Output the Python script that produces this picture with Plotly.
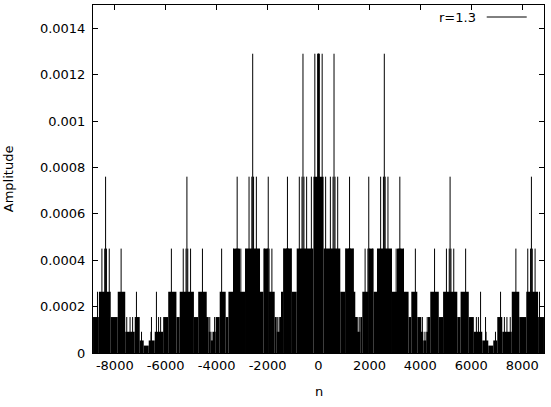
import plotly.graph_objects as go

# ---- data (approximate) ----
level_amp = [0.00129, 0.00076, 0.00045, 0.000264, 0.000155, 0.0000915, 0.000054, 0.000032]

# dense (solid-looking) base of the impulse cloud: segments [start, end) in n with level index
seg_start = [-8855, -8625, -8160, -7885, -7590, -7218, -7021, -6864, -6668, -6432, -6100, -5902,
             -5580, -5451, -4893, -4724, -4390, -4312, -4233, -4115, -4037, -3880, -3645, -3538,
             -3342, -3083, -2886, -2297, -2164, -1967, -1720, -1641, -1504, -1445, -1378, -1052,
             -856, -200,
             200, 856, 1052, 1378, 1445, 1504, 1641, 1720, 1967, 2164, 2297, 2886, 3083, 3342,
             3538, 3645, 3880, 4037, 4115, 4233, 4312, 4390, 4724, 4893, 5451, 5580, 5902, 6100,
             6432, 6668, 6864, 7021, 7218, 7590, 7885, 8160, 8625]
seg_end = [-8625, -8160, -7885, -7590, -7218, -7021, -6864, -6668, -6432, -6100, -5902, -5580,
           -5451, -4893, -4724, -4390, -4312, -4233, -4115, -4037, -3880, -3645, -3538, -3342,
           -3083, -2886, -2297, -2164, -1967, -1720, -1641, -1504, -1445, -1378, -1052, -856,
           -200, 200,
           856, 1052, 1378, 1445, 1504, 1641, 1720, 1967, 2164, 2297, 2886, 3083, 3342, 3538,
           3645, 3880, 4037, 4115, 4233, 4312, 4390, 4724, 4893, 5451, 5580, 5902, 6100, 6432,
           6668, 6864, 7021, 7218, 7590, 7885, 8160, 8625, 8855]
seg_level = [4, 3, 4, 3, 5, 4, 6, 7, 6, 5, 4, 3,
             4, 3, 4, 3, 4, 5, 6, 5, 4, 3, 4, 3,
             2, 3, 2, 3, 2, 3, 4, 5, 4, 3, 2, 3,
             2, 1,
             2, 3, 2, 3, 4, 5, 4, 3, 2, 3, 2, 3, 2, 3,
             4, 3, 4, 5, 6, 5, 4, 3, 4, 3, 4, 3, 4, 5,
             6, 7, 6, 4, 5, 3, 4, 3, 4]

# isolated impulses standing above the base, by level
spike_L0 = [-2584, -610, -144, -34, -8, 0, 8, 34, 144, 610, 2584]
spike_L1 = [-8362, -5168, -3194, -2728, -2618, -2550, -2440, -1974, -1220, -754, -648, -572,
            -466, -280, 280, 466, 572, 648, 754, 1220, 1974, 2440, 2550, 2618, 2728, 3194,
            5168, 8362]
spike_L2 = [-8506, -8396, -8328, -8218, -7752, -5778, -5312, -5202, -5134, -5024, -4558,
            -3804, -3338, -3228, -3160, -3050, -2118, -2008, -1940, -1830, -1364, -1254,
            -1186, -1076,
            1076, 1186, 1254, 1364, 1830, 1940, 2008, 2118, 3050, 3160, 3228, 3338, 3804,
            4558, 5024, 5134, 5202, 5312, 5778, 7752, 8218, 8328, 8396, 8506]
spike_L3 = [-8680, -7150, -6365, 6365, 7150, 8680]
spike_L4 = [-7530, -7400, -7300, -6560, -6280, -6200, -4270, -4080, -1600, -1540,
            1540, 1600, 4080, 4270, 6200, 6280, 6560, 7300, 7400, 7530]
spike_L5 = [-6950, -6580, -4180, 4180, 6580, 6950]

x_ticks = [-8000, -6000, -4000, -2000, 0, 2000, 4000, 6000, 8000]
x_tick_text = ["-8000", "-6000", "-4000", "-2000", "0", "2000", "4000", "6000", "8000"]
y_ticks = [0, 0.0002, 0.0004, 0.0006, 0.0008, 0.001, 0.0012, 0.0014]
y_tick_text = ["0", "0.0002", "0.0004", "0.0006", "0.0008", "0.001", "0.0012", "0.0014"]

FONT = "DejaVu Sans"

# ---- build traces ----
bar_x = [(a + b) / 2 for a, b in zip(seg_start, seg_end)]
bar_w = [b - a for a, b in zip(seg_start, seg_end)]
bar_y = [level_amp[k] for k in seg_level]

fig = go.Figure()
fig.add_trace(go.Bar(x=bar_x, y=bar_y, width=bar_w,
                     marker=dict(color="black", line=dict(width=0)),
                     hoverinfo="skip", showlegend=False))

sx, sy = [], []
for lvl, spikes in enumerate([spike_L0, spike_L1, spike_L2, spike_L3, spike_L4, spike_L5]):
    for n in spikes:
        sx += [n, n, None]
        sy += [0, level_amp[lvl], None]
fig.add_trace(go.Scatter(x=sx, y=sy, mode="lines",
                         line=dict(color="black", width=1),
                         hoverinfo="skip", showlegend=False))

fig.update_layout(
    width=551, height=407,
    margin=dict(l=93, r=7, t=5, b=54),
    paper_bgcolor="white", plot_bgcolor="white",
    font=dict(family=FONT, size=13, color="black"),
    showlegend=False,
    xaxis=dict(range=[-8856, 8856], tickvals=x_ticks, ticktext=x_tick_text,
               ticks="inside", ticklen=5,
               tickcolor="black", showline=True, linecolor="black", linewidth=1,
               mirror="ticks", showgrid=False, zeroline=False,
               tickfont=dict(family=FONT, size=13, color="black")),
    yaxis=dict(range=[0, 0.0015], tickvals=y_ticks, ticktext=y_tick_text,
               ticks="inside", ticklen=5, tickcolor="black", showline=True,
               linecolor="black", linewidth=1, mirror="ticks", showgrid=False,
               zeroline=False, ticklabelstandoff=4,
               tickfont=dict(family=FONT, size=13, color="black")),
    annotations=[
        dict(text="Amplitude", x=-0.188, y=0.5, xref="paper", yref="paper",
             textangle=-90, showarrow=False, xanchor="center", yanchor="middle",
             font=dict(family=FONT, size=13, color="black")),
        dict(text="n", x=0.501, y=-0.112, xref="paper", yref="paper",
             showarrow=False, xanchor="center", yanchor="middle",
             font=dict(family=FONT, size=13, color="black")),
        dict(text="r=1.3", x=0.8543, y=0.9655, xref="paper", yref="paper",
             showarrow=False, xanchor="right", yanchor="middle",
             font=dict(family=FONT, size=13, color="black")),
    ],
    shapes=[dict(type="line", xref="paper", yref="paper", x0=0.873, x1=0.9617,
                 y0=0.9655, y1=0.9655, line=dict(color="black", width=1))],
)

fig.write_html("out.html")
